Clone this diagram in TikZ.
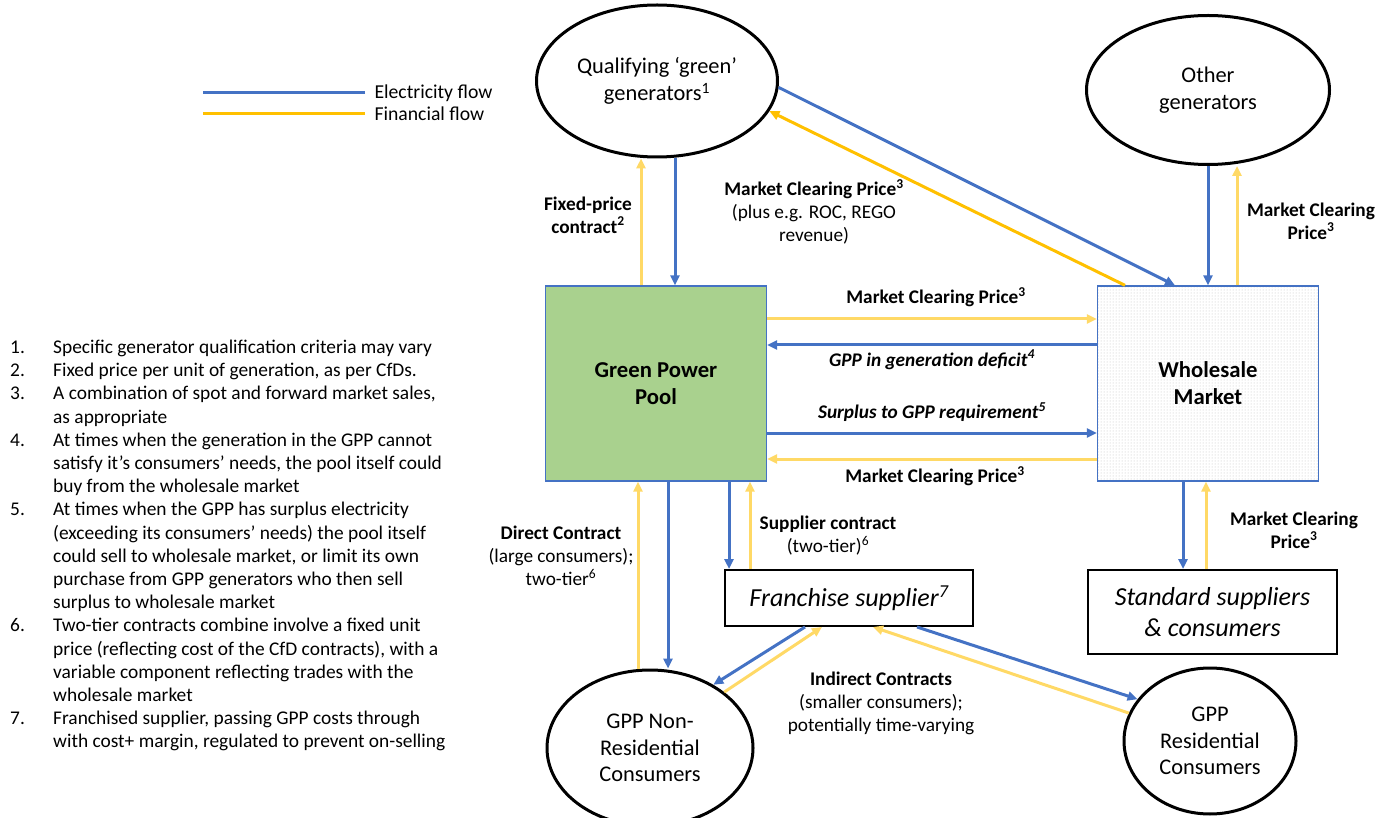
\documentclass[tikz,border=0pt]{standalone}
\usepackage{fontspec}
\setmainfont{Carlito}
\usetikzlibrary{arrows.meta,shapes.geometric,patterns.meta}
\definecolor{Elec}{HTML}{4472C4}
\definecolor{Money}{HTML}{FFC000}
\definecolor{MoneyLt}{HTML}{FFD966}
\definecolor{Pool}{HTML}{A9D18E}
\definecolor{DotGrey}{HTML}{BDBDBD}
\newcommand{\fsz}[2]{\fontsize{#1}{#2}\selectfont}

\begin{document}
\begin{tikzpicture}[x=1pt,y=-1pt,
      party/.style={ellipse,draw=black,line width=3pt,inner sep=0pt,align=center,font=\fsz{22.4}{27}},
      hub/.style={draw=Elec,line width=1.3pt,inner sep=0pt,minimum width=221pt,minimum height=195pt,
        align=center,font=\fsz{22.7}{27}\bfseries},
      supp/.style={draw=black,line width=2pt,inner sep=0pt,align=center,font=\fsz{26}{31}\itshape},
      lbl/.style={align=center,font=\fsz{19.3}{23}\bfseries},
      lbln/.style={align=center,font=\fsz{19.3}{23}},
      lbli/.style={align=center,font=\fsz{19.3}{23}\bfseries\itshape},
      elec/.style={-{Triangle[length=10pt,width=9pt]},line width=3pt,draw=Elec},
      fin/.style={-{Triangle[length=10pt,width=9pt]},line width=3pt,draw=MoneyLt},
      finstrong/.style={fin,draw=Money}]
      \useasboundingbox (0,0) rectangle (1390,818);
      \node[party,minimum width=241pt,minimum height=152pt] (qual) at (657,81) {Qualifying ‘green’\\generators\textsuperscript{1}};
      \node[party,minimum width=243pt,minimum height=149pt] (other) at (1208,90) {Other\\generators};
      \node[hub,fill=Pool] (gpp) at (656,383.5) {Green Power\\Pool};
      \node[hub,pattern={Dots[distance=3pt,radius=0.5pt]},pattern color=DotGrey] (whole) at (1208,383.5) {Wholesale\\Market};
      \node[supp,minimum width=248pt,minimum height=56pt] (fran) at (849,598) {Franchise supplier\textsuperscript{7}};
      \node[supp,minimum width=249pt,minimum height=84pt] (std) at (1212.5,612) {Standard suppliers\\\& consumers};
      \node[party,minimum width=206pt,minimum height=156pt,font=\fsz{22.4}{26.5}] (nonres) at (650,748) {GPP Non-\\Residential\\Consumers};
      \node[party,minimum width=172pt,minimum height=146pt,font=\fsz{22.4}{26.5}] (res) at (1210,741) {GPP\\Residential\\Consumers};

      \node[anchor=west,font=\fsz{19.7}{21}] (lgelec) at (371,93) {Electricity flow};
      \node[anchor=west,font=\fsz{19.7}{21}] (lgfin) at (371,114) {Financial flow};
      \draw[line width=3pt,Elec] ([xshift=-6pt]lgelec.west) -- ++(-162,0);
      \draw[line width=3pt,Money] ([xshift=-6pt]lgfin.west) -- ++(-162,0);

      \node[lbl] (fixed) at (588,215) {Fixed-price\\contract\textsuperscript{2}};
      \node[lbln] (mcpqual) at (814,212) {\textbf{Market Clearing Price\textsuperscript{3}}\\(plus e.g. ROC, REGO\\revenue)};
      \node[lbl] (mcpother) at (1311,221) {Market Clearing\\Price\textsuperscript{3}};
      \node[lbl] (mcpsell) at (936,297) {Market Clearing Price\textsuperscript{3}};
      \node[lbli] (deficit) at (932,360) {GPP in generation deficit\textsuperscript{4}};
      \node[lbli] (surplus) at (932,412) {Surplus to GPP requirement\textsuperscript{5}};
      \node[lbl] (mcpbuy) at (935,476) {Market Clearing Price\textsuperscript{3}};
      \node[lbln] (direct) at (561,556) {\textbf{Direct Contract}\\(large consumers);\\two-tier\textsuperscript{6}};
      \node[lbln] (supcon) at (828,536) {\textbf{Supplier contract}\\(two-tier)\textsuperscript{6}};
      \node[lbl] (mcpstd) at (1294,530) {Market Clearing\\Price\textsuperscript{3}};
      \node[lbln] (indirect) at (881,703) {\textbf{Indirect Contracts}\\(smaller consumers);\\potentially time-varying};

      \node[anchor=north west,inner sep=0pt,font=\fsz{19.4}{23.2}] (notes) at (10,337) {%
        \begin{tabular}{@{}p{43pt}@{}l@{}}
        1. & Specific generator qualification criteria may vary\\
        2. & Fixed price per unit of generation, as per CfDs.\\
        3. & A combination of spot and forward market sales,\\
           & as appropriate\\
        4. & At times when the generation in the GPP cannot\\
           & satisfy it’s consumers’ needs, the pool itself could\\
           & buy from the wholesale market\\
        5. & At times when the GPP has surplus electricity\\
           & (exceeding its consumers’ needs) the pool itself\\
           & could sell to wholesale market, or limit its own\\
           & purchase from GPP generators who then sell\\
           & surplus to wholesale market\\
        6. & Two-tier contracts combine involve a fixed unit\\
           & price (reflecting cost of the CfD contracts), with a\\
           & variable component reflecting trades with the\\
           & wholesale market\\
        7. & Franchised supplier, passing GPP costs through\\
           & with cost+ margin, regulated to prevent on-selling
        \end{tabular}};

      \draw[fin] ([xshift=-15pt]gpp.north) -- ([xshift=-16pt]qual.south);
      \draw[elec] ([xshift=18pt]qual.south) -- ([xshift=19pt]gpp.north);
      \draw[elec] (qual.-3) -- ([xshift=-33pt]whole.north);
      \draw[finstrong] ([xshift=-83pt]whole.north) -- (qual.-15);
      \draw[elec] (other.south) -- (whole.north);
      \draw[fin] ([xshift=29pt]whole.north) -- ([xshift=29pt]other.south);
      \draw[fin] ([yshift=64.5pt]gpp.east) -- ([yshift=64.5pt]whole.west);
      \draw[elec] ([yshift=38.5pt]whole.west) -- ([yshift=38.5pt]gpp.east);
      \draw[elec] ([yshift=-49.5pt]gpp.east) -- ([yshift=-49.5pt]whole.west);
      \draw[fin] ([yshift=-75.5pt]whole.west) -- ([yshift=-75.5pt]gpp.east);
      \draw[fin] ([xshift=-12pt]nonres.north) -- ([xshift=-18pt]gpp.south);
      \draw[elec] ([xshift=12pt]gpp.south) -- ([xshift=18pt]nonres.north);
      \draw[elec] ([xshift=73pt]gpp.south) -- ([xshift=-120pt]fran.north);
      \draw[fin] ([xshift=-99pt]fran.north) -- ([xshift=94pt]gpp.south);
      \draw[elec] ([xshift=-25pt]whole.south) -- ([xshift=-29.5pt]std.north);
      \draw[fin] ([xshift=-6.5pt]std.north) -- ([xshift=-2pt]whole.south);
      \draw[elec] ([xshift=-44pt]fran.south) -- (nonres.45);
      \draw[fin] (nonres.37) -- ([xshift=-27pt]fran.south);
      \draw[elec] ([xshift=68pt]fran.south) -- (res.150);
      \draw[fin] (res.161) -- ([xshift=24pt]fran.south);
    \end{tikzpicture}
\end{document}
